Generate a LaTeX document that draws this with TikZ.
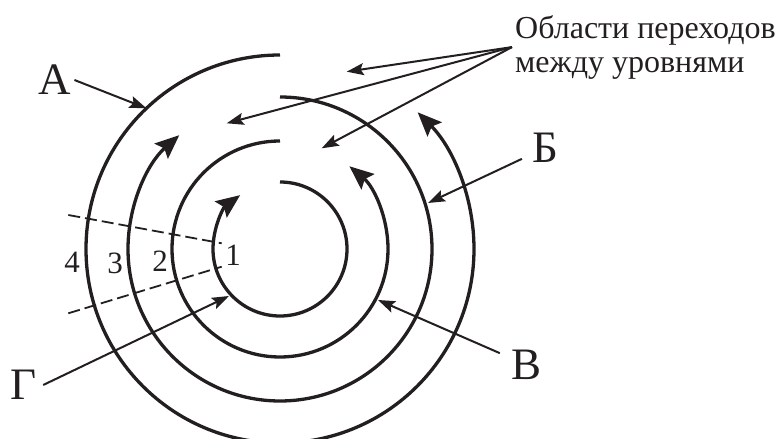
\documentclass[tikz,border=0pt]{standalone}
\usepackage{fontspec}
\setmainfont{Liberation Serif}
\usetikzlibrary{arrows.meta}
\definecolor{ink}{RGB}{35,31,32}
\begin{document}
\begin{tikzpicture}[x=1pt,y=1pt,
  ring/.style={draw=ink, line width=3.3pt, -{Stealth[length=24pt,width=20pt,inset=4pt]}},
  lab/.style={draw=ink, line width=2pt, -{Stealth[length=17pt,width=12pt,inset=3pt]}},
  cut/.style={draw=ink, line width=1.8pt, dash pattern=on 12pt off 5pt},
  big/.style={text=ink, font=\fontsize{45}{50}\selectfont, inner sep=3pt},
  num/.style={text=ink, font=\fontsize{31}{34}\selectfont, inner sep=0pt}]
\useasboundingbox (0,0) rectangle (777,439);
% spiral rings (centre at 280,190)
\path[ring] (280,257) arc[start angle=90, end angle=-233.5, radius=67];
\path[ring] (280,298) arc[start angle=90, end angle=410, radius=108];
\path[ring] (280,342) arc[start angle=90, end angle=-228.5, radius=152];
\path[ring] (280,384) arc[start angle=90, end angle=404.8, radius=194];
% dashed sector lines
\coordinate (u1) at (68.3,224);
\coordinate (u2) at (221.7,195.7);
\coordinate (l1) at (68.3,125.7);
\coordinate (l2) at (221.7,172.3);
\draw[cut] (u1) -- (u2);
\draw[cut] (l1) -- (l2);
% level numbers
\node[num] (n4) at (72,177) {4};
\node[num] (n3) at (115,176) {3};
\node[num] (n2) at (160,178) {2};
\node[num] (n1) at (233,184) {1};
% labels
\node[big] (A) at (55,359) {А};
\node[big, inner sep=10pt] (B) at (545,291) {Б};
\node[big, inner sep=12pt] (V) at (527,74) {В};
\node[big, inner sep=6pt] (G) at (24,54) {Г};
\coordinate (tA) at (146.5,330.7);
\coordinate (tB) at (428,236);
\coordinate (tV) at (378,139);
\coordinate (tG) at (229,143);
\draw[lab] (A.east) -- (tA);
\draw[lab] (B) -- (tB);
\draw[lab] (V) -- (tV);
\draw[lab] (G.east) -- (tG);
% note
\node[anchor=north west, inner sep=0pt, align=left, text=ink,
      font=\fontsize{32}{34}\selectfont] (note) at (515,424)
  {Области переходов\\между уровнями};
\coordinate (t1) at (346.7,367.3);
\coordinate (t2) at (226.7,315.7);
\coordinate (t3) at (321.7,290.7);
\draw[lab] ([xshift=-3pt]note.west) -- (t1);
\draw[lab] ([xshift=-3pt]note.west) -- (t2);
\draw[lab] ([xshift=-3pt]note.west) -- (t3);
\end{tikzpicture}
\end{document}
